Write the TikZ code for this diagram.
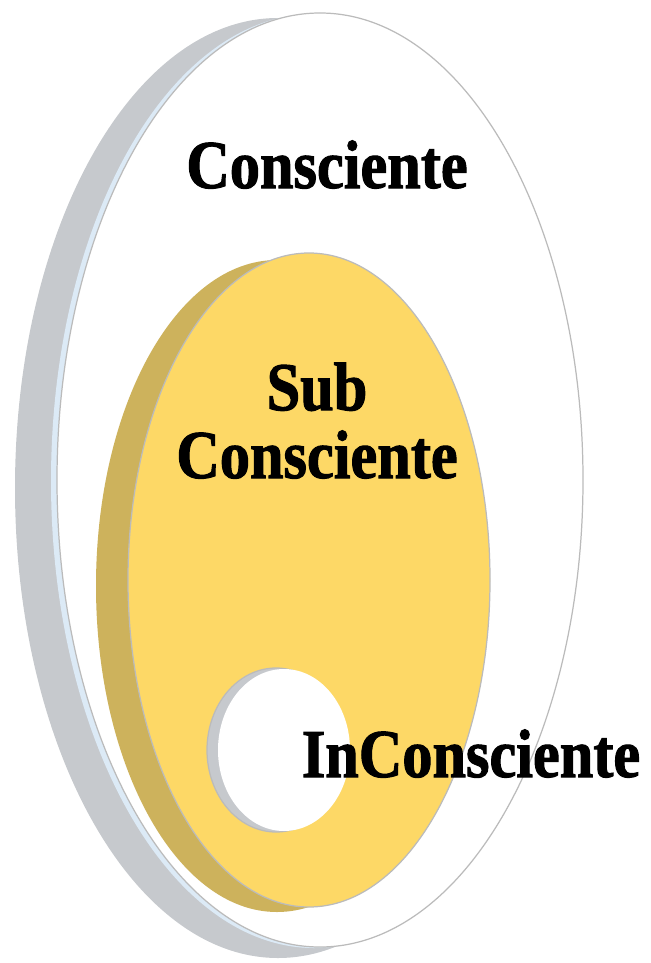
\documentclass[tikz,border=0pt]{standalone}
\usepackage{fontspec}
\newfontfamily\labelfont[FakeStretch=0.88, FakeBold=1.5]{Liberation Serif}
\usetikzlibrary{positioning}
\definecolor{rimgray}{HTML}{C6C9CD}
\definecolor{rimblue}{HTML}{DCEAF6}
\definecolor{edgegray}{HTML}{BBBBBB}
\definecolor{subyellow}{HTML}{FDD866}
\definecolor{subshade}{HTML}{CDB25C}
\tikzset{
    % text on the discs
    layer label/.style={font=\labelfont\bfseries\fontsize{39}{38.6}\selectfont, inner sep=0pt, anchor=base, align=center},
    % disc parts
    disc face/.style={draw=edgegray, line width=0.7pt},
    disc side/.style={draw=none},
}

\begin{document}
\begin{tikzpicture}[x=0.02cm, y=-0.02cm]
    \useasboundingbox (0,0) rectangle (651,963);

    % Outer disc (Consciente)
    \fill[rimgray] (278,488) ellipse [x radius=263, y radius=470];
    \fill[rimblue] (314,481) ellipse [x radius=263, y radius=467];
    \draw[disc face, fill=white] (320,480) ellipse [x radius=263, y radius=467];

    % Middle disc (Sub Consciente)
    \fill[subshade] (277,586) ellipse [x radius=181, y radius=326];
    \draw[disc face, fill=subyellow] (309,580) ellipse [x radius=181, y radius=327];

    % Hole (InConsciente)
    \draw[disc face, fill=rimgray] (276,750) ellipse [x radius=69, y radius=82];
    \fill[white] (284,750) ellipse [x radius=66, y radius=81];

    % Labels
    \node[layer label] (consciente) at (327,188) {Consciente};
    \node[layer label] (subconsciente) at (317,478) {Sub\\Consciente};
    \node[layer label] (inconsciente) at (471,777) {InConsciente};
\end{tikzpicture}
\end{document}
